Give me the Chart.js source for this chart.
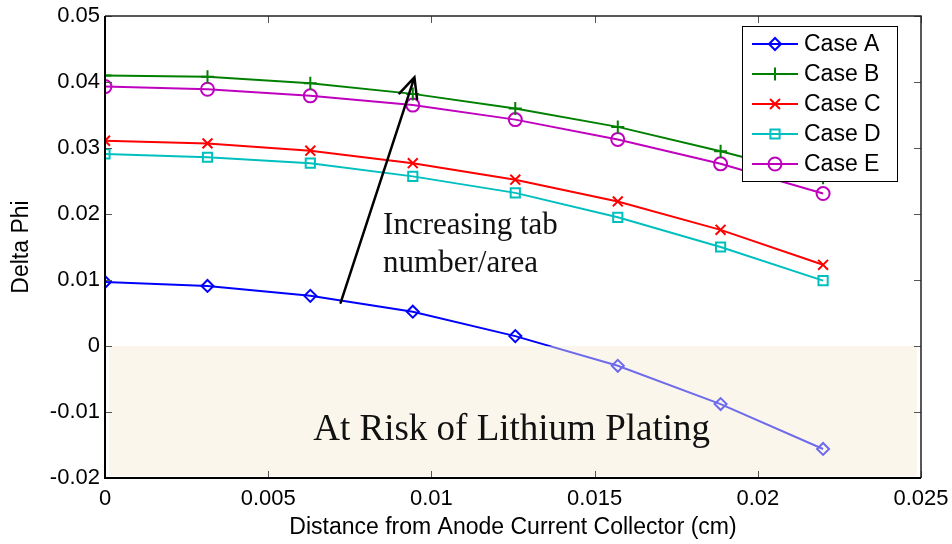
<!DOCTYPE html>
<html lang="en">
  <head>
    <meta charset="utf-8" />
    <title>Delta Phi vs distance</title>
    <style>
      * {
        margin: 0;
        padding: 0;
      }
      body {
        background: white;
      }
      .chartBox {
        width: 952px;
        height: 544px;
      }
    </style>
  </head>
  <body>
    <div class="chartBox">
      <canvas id="myChart"></canvas>
    </div>

    <script src="https://cdn.jsdelivr.net/npm/chart.js@4.4.0/dist/chart.umd.min.js"></script>

    <script>
      // data block
      const distance = [0, 0.00314, 0.00629, 0.00943, 0.01257, 0.01571, 0.01886, 0.022];
      const caseA = [0.0097, 0.0091, 0.0076, 0.0052, 0.0015, -0.003, -0.0088, -0.0156];
      const caseB = [0.041, 0.0408, 0.0398, 0.0382, 0.036, 0.0332, 0.0295, 0.0255];
      const caseC = [0.0311, 0.0307, 0.0296, 0.0277, 0.0252, 0.0219, 0.0176, 0.0123];
      const caseD = [0.0291, 0.0286, 0.0277, 0.0257, 0.0232, 0.0195, 0.015, 0.0099];
      const caseE = [0.0393, 0.0389, 0.0379, 0.0365, 0.0343, 0.0313, 0.0276, 0.0231];

      const caseNames = ["Case A", "Case B", "Case C", "Case D", "Case E"];
      const xTicks = [0, 0.005, 0.01, 0.015, 0.02, 0.025];
      const xTickLabels = ["0", "0.005", "0.01", "0.015", "0.02", "0.025"];
      const yTicks = [-0.02, -0.01, 0, 0.01, 0.02, 0.03, 0.04, 0.05];
      const yTickLabels = ["-0.02", "-0.01", "0", "0.01", "0.02", "0.03", "0.04", "0.05"];

      const sansFont = 'Arial, "Liberation Sans", sans-serif';
      const serifFont = '"Times New Roman", "Liberation Serif", serif';

      const styles = [
        { color: "#0000ff", point: "rectRot", radius: 6 },
        { color: "#008000", point: "cross", radius: 6.5 },
        { color: "#ff0000", point: "crossRot", radius: 7 },
        { color: "#00bfbf", point: "rect", radius: 6.5 },
        { color: "#bf00bf", point: "circle", radius: 6.5 },
      ];

      const series = [caseA, caseB, caseC, caseD, caseE];

      const datasets = series.map((values, i) => ({
        label: caseNames[i],
        data: values.map((v, j) => ({ x: distance[j], y: v })),
        borderColor: styles[i].color,
        backgroundColor: "rgba(0,0,0,0)",
        borderWidth: 2,
        pointStyle: styles[i].point,
        pointRadius: styles[i].radius,
        pointBorderWidth: 2,
        pointBorderColor: styles[i].color,
        pointBackgroundColor: "rgba(0,0,0,0)",
        tension: 0,
      }));

      // shaded "risk" band below zero, laid over the curves so they show through tinted
      const riskBand = {
        id: "riskBand",
        afterDatasetsDraw(chart) {
          const { ctx, chartArea, scales } = chart;
          const y0 = scales.y.getPixelForValue(0);
          ctx.save();
          ctx.fillStyle = "rgba(244, 234, 212, 0.45)";
          ctx.fillRect(
            chartArea.left + 4,
            y0,
            chartArea.right - chartArea.left - 8,
            chartArea.bottom - 2 - y0
          );
          ctx.fillStyle = "#111";
          ctx.font = "37px " + serifFont;
          ctx.textAlign = "left";
          ctx.textBaseline = "alphabetic";
          ctx.fillText(
            "At Risk of Lithium Plating",
            scales.x.getPixelForValue(0.00638),
            scales.y.getPixelForValue(-0.01424)
          );
          ctx.restore();
        },
      };

      // arrow + text note
      const arrowNote = {
        id: "arrowNote",
        afterDatasetsDraw(chart) {
          const { ctx, scales } = chart;
          const x1 = scales.x.getPixelForValue(0.00722);
          const y1 = scales.y.getPixelForValue(0.00656);
          const x2 = scales.x.getPixelForValue(0.00948);
          const y2 = scales.y.getPixelForValue(0.0407);
          const ang = Math.atan2(y1 - y2, x1 - x2);
          const head = 22;
          const spread = (25 * Math.PI) / 180;
          ctx.save();
          ctx.strokeStyle = "#000";
          ctx.lineWidth = 2.5;
          ctx.lineCap = "round";
          ctx.beginPath();
          ctx.moveTo(x1, y1);
          ctx.lineTo(x2, y2);
          ctx.moveTo(x2 + head * Math.cos(ang - spread), y2 + head * Math.sin(ang - spread));
          ctx.lineTo(x2, y2);
          ctx.lineTo(x2 + head * Math.cos(ang + spread), y2 + head * Math.sin(ang + spread));
          ctx.stroke();

          ctx.fillStyle = "#111";
          ctx.font = "31px " + serifFont;
          ctx.textAlign = "left";
          ctx.textBaseline = "alphabetic";
          const tx = scales.x.getPixelForValue(0.00852);
          ctx.fillText("Increasing tab", tx, scales.y.getPixelForValue(0.01697));
          ctx.fillText("number/area", tx, scales.y.getPixelForValue(0.01126));
          ctx.restore();
        },
      };

      // MATLAB-like frame with inward ticks on all sides
      const frameTicks = {
        id: "frameTicks",
        afterDraw(chart) {
          const { ctx, chartArea: a, scales } = chart;
          const len = 7;
          ctx.save();
          ctx.strokeStyle = "#555";
          ctx.lineWidth = 1;
          ctx.beginPath();
          xTicks.forEach((v) => {
            const px = Math.round(scales.x.getPixelForValue(v)) + 0.5;
            ctx.moveTo(px, a.bottom);
            ctx.lineTo(px, a.bottom - len);
            ctx.moveTo(px, a.top);
            ctx.lineTo(px, a.top + len);
          });
          yTicks.forEach((v) => {
            const py = Math.round(scales.y.getPixelForValue(v)) + 0.5;
            ctx.moveTo(a.left, py);
            ctx.lineTo(a.left + len, py);
            ctx.moveTo(a.right, py);
            ctx.lineTo(a.right - len, py);
          });
          ctx.stroke();

          ctx.strokeStyle = "#222";
          ctx.lineWidth = 1.5;
          ctx.beginPath();
          ctx.moveTo(a.left, a.top);
          ctx.lineTo(a.right, a.top);
          ctx.lineTo(a.right, a.bottom);
          ctx.stroke();
          ctx.strokeStyle = "#000";
          ctx.lineWidth = 2;
          ctx.beginPath();
          ctx.moveTo(a.left, a.top);
          ctx.lineTo(a.left, a.bottom);
          ctx.lineTo(a.right, a.bottom);
          ctx.stroke();
          ctx.restore();
        },
      };

      // boxed legend inside the plot, top right
      const boxLegend = {
        id: "boxLegend",
        afterDraw(chart) {
          const { ctx, chartArea: a } = chart;
          const boxW = 155;
          const boxH = 155;
          const bx = a.right - 179;
          const by = a.top + 10;
          ctx.save();
          ctx.fillStyle = "#fff";
          ctx.fillRect(bx, by, boxW, boxH);
          ctx.strokeStyle = "#000";
          ctx.lineWidth = 1;
          ctx.strokeRect(bx + 0.5, by + 0.5, boxW, boxH);
          chart.data.datasets.forEach((ds, i) => {
            const cy = by + 18 + i * 30;
            ctx.strokeStyle = ds.borderColor;
            ctx.lineWidth = 2;
            ctx.beginPath();
            ctx.moveTo(bx + 10, cy);
            ctx.lineTo(bx + 56, cy);
            ctx.stroke();
            ctx.fillStyle = "rgba(0,0,0,0)";
            Chart.helpers.drawPoint(
              ctx,
              { pointStyle: ds.pointStyle, radius: ds.pointRadius, borderWidth: 2 },
              bx + 33,
              cy
            );
            ctx.fillStyle = "#000";
            ctx.font = "23px " + sansFont;
            ctx.textAlign = "left";
            ctx.textBaseline = "middle";
            ctx.fillText(ds.label, bx + 62, cy + 1);
          });
          ctx.restore();
        },
      };

      // config block
      const config = {
        type: "line",
        data: { datasets: datasets },
        options: {
          responsive: true,
          maintainAspectRatio: false,
          animation: false,
          layout: { padding: { top: 16, right: 31, left: 0, bottom: 0 } },
          plugins: {
            legend: { display: false },
            tooltip: { enabled: false },
          },
          scales: {
            x: {
              type: "linear",
              min: 0,
              max: 0.025,
              afterFit(scale) {
                scale.height = 66;
                // keep the end labels from pushing the plot area inwards
                scale.paddingLeft = 0;
                scale.paddingRight = 0;
              },
              afterBuildTicks(scale) {
                scale.ticks = xTicks.map((v) => ({ value: v }));
              },
              ticks: {
                padding: 8,
                color: "#000",
                font: { family: sansFont, size: 22 },
                maxRotation: 0,
                callback: (v) => xTickLabels[xTicks.indexOf(v)],
              },
              grid: { display: false, drawTicks: false },
              border: { display: false },
              title: {
                display: true,
                text: "Distance from Anode Current Collector (cm)",
                color: "#000",
                font: { family: sansFont, size: 23, lineHeight: 1.2 },
                padding: { top: 0, bottom: 3 },
              },
            },
            y: {
              type: "linear",
              min: -0.02,
              max: 0.05,
              afterFit(scale) {
                scale.width = 105;
                scale.paddingTop = 0;
                scale.paddingBottom = 0;
              },
              afterBuildTicks(scale) {
                scale.ticks = yTicks.map((v) => ({ value: v }));
              },
              ticks: {
                padding: 5,
                color: "#000",
                font: { family: sansFont, size: 22 },
                callback: (v) => yTickLabels[yTicks.indexOf(v)],
              },
              grid: { display: false, drawTicks: false },
              border: { display: false },
              title: {
                display: true,
                text: "Delta Phi",
                color: "#000",
                font: { family: sansFont, size: 23, lineHeight: 1.2 },
                padding: { top: 8, bottom: 0 },
              },
            },
          },
        },
        plugins: [riskBand, arrowNote, frameTicks, boxLegend],
      };

      // init render block
      const myChart = new Chart(document.getElementById("myChart"), config);
    </script>
  </body>
</html>
